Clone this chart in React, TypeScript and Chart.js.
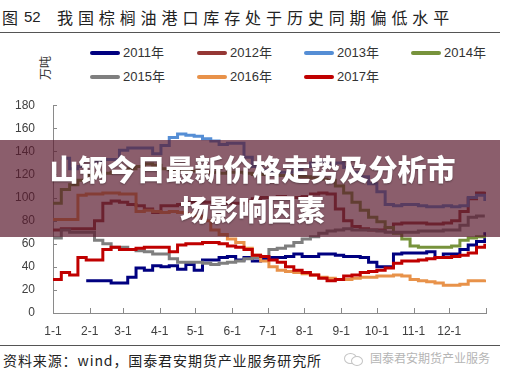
import React, { useEffect, useRef } from "react";
import { Chart, registerables } from "chart.js";

Chart.register(...registerables);

// ---- data ----
const seriesNames = ["2011年", "2012年", "2013年", "2014年", "2015年", "2016年", "2017年"];
const seriesColors = ["#000080", "#953735", "#558ED5", "#77933C", "#7F7F7F", "#E8924A", "#C00000"];

// weekly sampling days (day of year)
const weekDays = Array.from({ length: 53 }, (_, i) => i * 7);

const monthStarts = [0, 31, 59, 90, 120, 151, 181, 212, 243, 273, 304, 334, 365];
const monthLabels = ["1-1", "2-1", "3-1", "4-1", "5-1", "6-1", "7-1", "8-1", "9-1", "10-1", "11-1", "12-1", ""];
const yTickValues = [0, 20, 40, 60, 80, 100, 120, 140, 160, 180];

const s2011 = [
  null, null, null, null, 28, 28, 28, 26, 26, 31,
  39, 37, 41, 40, 41, 38, 42, 37, 46, 46,
  48, 49, 46, 48, 45, 47, 48, 48, 49, 51,
  49, 49, 51, 51, 50, 49, 49, 48, 44, 40,
  40, 51, 52, 52, 52, 53, 48, 51, 51, 55,
  59, 62, 70,
];
const s2012 = [
  72, 73, 73, 73, 73, 80, 95, 97, 96, 94,
  93, 90, 87, 93, 93, 94, 96, 96, 96, 96,
  97, 95, 95, 97, 99, 100, 100, 101, 100, 100,
  101, 103, 104, 103, 90, 80, 75, 73, 72, 72,
  74, 77, 78, 78, 78, 77, 77, 78, 80, 88,
  99, 104, 105,
];
const s2013 = [
  null, 134, 125, 127, 128, 131, 133, 133, 141, 143,
  143, 143, 138, 145, 152, 155, 154, 153, 151, 149,
  146, 147, 147, 135, 127, 124, 122, 122, 122, 124,
  127, 130, 131, 129, 130, 126, 122, 118, 112, 105,
  94, 93, 94, 94, 93, 92, 92, 93, 92, 93,
  100, 102, 97,
];
const s2014 = [
  95, 107, 111, 115, 119, 120, 121, 122, 122, 125,
  127, 129, 128, 125, 124, 124, 123, 123, 122, 122,
  121, 122, 122, 121, 120, 120, 120, 119, 119, 118,
  118, 117, 116, 115, 110, 104, 96, 89, 83, 79,
  74, 69, 64, 58, 57, 57, 57, 57, 58, 63,
  65, 66, 67,
];
const s2015 = [
  65, 72, 70, 70, 70, 63, 60, 57, 57, 55,
  54, 53, 51, 51, 47, 44, 44, 44, 43, 42,
  43, 44, 45, 47, 48, 49, 55, 56, 58, 61,
  64, 66, 69, 71, 72, 73, 72, 72, 72, 71,
  70, 70, 70, 70, 71, 71, 71, 72, 72, 76,
  83, 84, 84,
];
const s2016 = [
  81, 81, 81, 102, 103, 103, 104, 104, 103, 103,
  88, 89, 88, 87, 88, 87, 86, 84, 80, 72,
  68, 64, 61, 56, 50, 45, 40, 37, 36, 35,
  34, 33, 31, 30, 29, 29, 30, 31, 31, 32,
  32, 33, 32, 29, 28, 27, 26, 24, 24, 25,
  28, 28, 29,
];
const s2017 = [
  29, 35, 33, 48, 46, 46, 55, 57, 55, 55,
  56, 57, 57, 57, 53, 59, 60, 60, 61, 61,
  60, 58, 57, 55, 50, 49, 46, 44, 40, 37,
  35, 33, 30, 28, 29, 32, 33, 35, 36, 37,
  39, 43, 45, 45, 46, 47, 48, 48, 49, 50,
  52, 57, 60,
];
const allSeries = [s2011, s2012, s2013, s2014, s2015, s2016, s2017];

// ---- style ----
const axisColor = "#8a8a8a";
const tickColor = "#404040";
const latin = "'Liberation Sans', Arial, 'Noto Sans CJK SC', sans-serif";
const cjk = "'Noto Sans CJK SC', 'Liberation Sans', sans-serif";

const innerTicks = {
  id: "innerTicks",
  beforeDatasetsDraw(chart: any) {
    const { ctx, chartArea, scales } = chart;
    const x = scales.x;
    const y = scales.y;
    ctx.save();
    ctx.strokeStyle = axisColor;
    ctx.lineWidth = 1;
    ctx.beginPath();
    for (const v of yTickValues) {
      const py = Math.round(y.getPixelForValue(v)) + 0.5;
      ctx.moveTo(chartArea.left, py);
      ctx.lineTo(chartArea.left + 4, py);
    }
    for (const v of monthStarts) {
      const px = Math.round(x.getPixelForValue(v)) + 0.5;
      ctx.moveTo(px, chartArea.bottom);
      ctx.lineTo(px, chartArea.bottom - 5);
    }
    ctx.stroke();
    ctx.restore();
  },
};

export default function App() {
  const canvasRef = useRef<HTMLCanvasElement>(null);

  useEffect(() => {
    const chart = new Chart(canvasRef.current as HTMLCanvasElement, {
      type: "line",
      data: {
        datasets: allSeries.map((vals, i) => ({
          label: seriesNames[i],
          data: vals.map((v, k) => ({ x: weekDays[k], y: v })),
          borderColor: seriesColors[i],
          backgroundColor: seriesColors[i],
          borderWidth: 3,
          pointRadius: 0,
          stepped: true,
          fill: false,
          spanGaps: false,
          order: allSeries.length - i,
        })),
      },
      options: {
        responsive: false,
        animation: false,
        events: [],
        layout: { padding: { top: 10, right: 19, left: 0, bottom: 0 } },
        plugins: {
          legend: { display: false },
          tooltip: { enabled: false },
          title: { display: false },
        },
        scales: {
          x: {
            type: "linear",
            min: 0,
            max: 365,
            afterBuildTicks: (s: any) => {
              s.ticks = monthStarts.map((v) => ({ value: v }));
            },
            afterFit: (s: any) => {
              s.height = 32;
            },
            ticks: {
              autoSkip: false,
              maxRotation: 0,
              minRotation: 0,
              padding: 11,
              color: tickColor,
              font: { family: latin, size: 12 },
              callback: (_v: any, i: number) => monthLabels[i] ?? "",
            },
            grid: { drawOnChartArea: false, drawTicks: false },
            border: { color: axisColor, width: 1 },
          },
          y: {
            min: 0,
            max: 180,
            afterBuildTicks: (s: any) => {
              s.ticks = yTickValues.map((v) => ({ value: v }));
            },
            afterFit: (s: any) => {
              s.width = 53;
            },
            ticks: {
              padding: 18,
              color: tickColor,
              font: { family: latin, size: 12 },
            },
            grid: { drawOnChartArea: false, drawTicks: false },
            border: { color: axisColor, width: 1 },
          },
        },
      } as any,
      plugins: [innerTicks],
    });
    return () => chart.destroy();
  }, []);

  const legendCols = [90, 197, 304, 411];
  const legendRows = [53, 77];

  return (
    <div
      style={{
        position: "fixed",
        left: 0,
        top: 0,
        width: 505,
        height: 379,
        background: "#fff",
        overflow: "hidden",
      }}
    >
      {/* title */}
      <div style={{ position: "absolute", left: 2, top: 7, fontFamily: cjk, fontSize: 16, lineHeight: "20px", color: "#222", whiteSpace: "nowrap" }}>图</div>
      <div style={{ position: "absolute", left: 24, top: 7, fontFamily: latin, fontSize: 15, lineHeight: "20px", color: "#222", whiteSpace: "nowrap" }}>52</div>
      <div style={{ position: "absolute", left: 57, top: 7, fontFamily: cjk, fontSize: 16, lineHeight: "20px", letterSpacing: "4.9px", color: "#222", whiteSpace: "nowrap" }}>
        我国棕榈油港口库存处于历史同期偏低水平
      </div>
      <div style={{ position: "absolute", left: 0, top: 32, width: 500, height: 1, background: "#555" }} />

      {/* legend */}
      {seriesNames.map((name, i) => {
        const col = legendCols[i % 4];
        const row = legendRows[Math.floor(i / 4)];
        return (
          <React.Fragment key={name}>
            <div style={{ position: "absolute", left: col, top: row - 2, width: 30, height: 4, borderRadius: 2, background: seriesColors[i] }} />
            <div style={{ position: "absolute", left: col + 33, top: row - 9, fontFamily: latin, fontSize: 13, lineHeight: "18px", color: "#333", whiteSpace: "nowrap" }}>{name}</div>
          </React.Fragment>
        );
      })}

      {/* y unit */}
      <div style={{ position: "absolute", left: 45, top: 68, width: 0, height: 0 }}>
        <div style={{ position: "absolute", left: -15, top: -8, width: 30, height: 16, transform: "rotate(-90deg)", fontFamily: cjk, fontSize: 12, lineHeight: "16px", color: "#333", textAlign: "center", whiteSpace: "nowrap" }}>万吨</div>
      </div>

      {/* chart */}
      <canvas ref={canvasRef} width={505} height={265} style={{ position: "absolute", left: 0, top: 80, width: 505, height: 265 }} />

      {/* footer */}
      <div style={{ position: "absolute", left: 0, top: 345, width: 500, height: 1, background: "#555" }} />
      <div style={{ position: "absolute", left: 3, top: 350, fontFamily: cjk, fontSize: 14, lineHeight: "20px", letterSpacing: "0.9px", color: "#222", whiteSpace: "nowrap" }}>
        资料来源：wind，国泰君安期货产业服务研究所
      </div>
      <div style={{ position: "absolute", left: 344, top: 353, width: 11, height: 9, borderRadius: "50%", border: "1.5px solid #c4c4c4" }} />
      <div style={{ position: "absolute", left: 351, top: 356, width: 10, height: 8, borderRadius: "50%", border: "1.5px solid #c4c4c4", background: "#fff" }} />
      <div style={{ position: "absolute", left: 370, top: 350, fontFamily: cjk, fontSize: 12, lineHeight: "16px", color: "#b5b5b5", whiteSpace: "nowrap" }}>
        国泰君安期货产业服务
      </div>

      {/* overlay banner */}
      <div style={{ position: "absolute", left: 0, top: 140, width: 500, height: 97, background: "rgba(90,25,45,0.7)" }} />
      <div style={{ position: "absolute", left: 0, top: 148, width: 505, textAlign: "center", fontFamily: cjk, fontWeight: 900, fontSize: 29, lineHeight: "40px", color: "#fff", whiteSpace: "nowrap", textShadow: "0 1px 2px rgba(0,0,0,0.35)" }}>
        山钢今日最新价格走势及分析市
        <br />
        场影响因素
      </div>
    </div>
  );
}
